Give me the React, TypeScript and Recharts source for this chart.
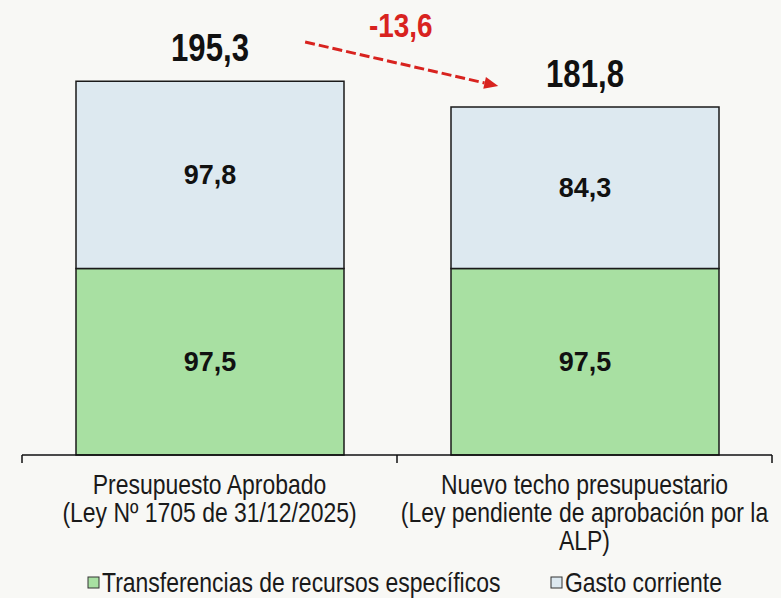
import React from 'react';
import {
  BarChart,
  Bar,
  XAxis,
  YAxis,
  LabelList,
  Legend,
  ReferenceLine,
} from 'recharts';

// datos del gráfico
const categories = [
  ['Presupuesto Aprobado', '(Ley Nº 1705 de 31/12/2025)'],
  ['Nuevo techo presupuestario', '(Ley pendiente de aprobación por la', 'ALP)'],
];
const transferencias = [97.5, 97.5];
const gastoCorriente = [97.8, 84.3];
const totals = [195.3, 181.8];
const variationLabel = '-13,6';
const seriesNames = ['Transferencias de recursos específicos', 'Gasto corriente'];

const GREEN = '#a8e0a2';
const BLUE = '#dde9f0';
const RED = '#d8231f';
const SANS = '"Liberation Sans", Arial, sans-serif';
const NARROW = 0.82; // imitación de Arial Narrow

const data = categories.map((c, i) => ({
  x: i + 0.5,
  name: c,
  transferencias: transferencias[i],
  gasto: gastoCorriente[i],
  total: totals[i],
}));

const fmt = (v: number) => v.toFixed(1).replace('.', ',');

// texto condensado: escala horizontal alrededor de cx
const NarrowText = ({ cx, y, size, bold, fill, anchor = 'middle', children }: any) => (
  <g transform={`translate(${cx} 0) scale(${NARROW} 1)`}>
    <text
      x={0}
      y={y}
      textAnchor={anchor}
      fontFamily={SANS}
      fontWeight={bold ? 'bold' : 'normal'}
      fontSize={size}
      fill={fill}
    >
      {children}
    </text>
  </g>
);

const AxisTick = (props: any) => {
  const { x, y, payload } = props;
  const v = payload.value;
  if (Number.isInteger(v)) {
    return <line x1={x} y1={y} x2={x} y2={y + 8} stroke="#111" strokeWidth={1.5} />;
  }
  const lines = categories[Math.floor(v)];
  return (
    <g>
      {lines.map((l, i) => (
        <NarrowText key={i} cx={x} y={y + 39 + i * 28} size={28} fill="#1a1a1a">
          {l}
        </NarrowText>
      ))}
    </g>
  );
};

const TotalLabel = (props: any) => {
  const { x, y, width, index } = props;
  return (
    <NarrowText cx={x + width / 2} y={y - 20} size={38} bold fill="#111">
      {fmt(totals[index])}
    </NarrowText>
  );
};

const ArrowShape = (props: any) => {
  const { x1, y1, x2, y2 } = props;
  if (x1 == null) return null;
  const ang = Math.atan2(y2 - y1, x2 - x1);
  const head = 14;
  const hw = 6;
  const bx = x2 - head * Math.cos(ang);
  const by = y2 - head * Math.sin(ang);
  const px = -Math.sin(ang) * hw;
  const py = Math.cos(ang) * hw;
  return (
    <g>
      <line x1={x1} y1={y1} x2={bx} y2={by} stroke={RED} strokeWidth={3} strokeDasharray="10 4" />
      <polygon points={`${x2},${y2} ${bx + px},${by + py} ${bx - px},${by - py}`} fill={RED} />
      <NarrowText cx={(x1 + x2) / 2 - 1} y={y1 - 5} size={34} bold fill={RED}>
        {variationLabel}
      </NarrowText>
    </g>
  );
};

const legendX = [88, 551];

const LegendContent = (props: any) => {
  const payload = [...(props.payload || [])].sort(
    (a: any, b: any) => seriesNames.indexOf(a.value) - seriesNames.indexOf(b.value)
  );
  return (
    <svg width={781} height={32} style={{ display: 'block' }}>
      {payload.map((p: any, i: number) => (
        <g key={i}>
          <rect x={legendX[i]} y={11} width={11} height={11} fill={p.color} stroke="#333" strokeWidth={1} />
          <NarrowText cx={legendX[i] + 14} y={26} size={28} fill="#1a1a1a" anchor="start">
            {p.value}
          </NarrowText>
        </g>
      ))}
    </svg>
  );
};

export default function App() {
  return (
    <div style={{ position: 'absolute', left: 0, top: 0, width: 781, height: 598, background: '#f8f8f5' }}>
      <BarChart width={781} height={598} data={data} margin={{ top: 34, right: 9, left: 22, bottom: 0 }}>
        <XAxis
          dataKey="x"
          type="number"
          domain={[0, 2]}
          ticks={[0, 0.5, 1, 1.5, 2]}
          interval={0}
          tickSize={0}
          tickMargin={0}
          tickLine={false}
          axisLine={{ stroke: '#111', strokeWidth: 1.5 }}
          tick={<AxisTick />}
          height={143}
        />
        <YAxis hide domain={[0, 220]} />
        <Legend
          verticalAlign="middle"
          align="center"
          content={<LegendContent />}
          wrapperStyle={{ top: 566, left: 0, width: 781 }}
        />
        <Bar
          dataKey="transferencias"
          name={seriesNames[0]}
          stackId="a"
          fill={GREEN}
          stroke="#1a1a1a"
          strokeWidth={1.5}
          barSize={268}
          isAnimationActive={false}
        >
          <LabelList
            dataKey="transferencias"
            position="center"
            formatter={(v: any) => fmt(Number(v))}
            style={{ fontFamily: SANS, fontWeight: 'bold', fontSize: 27, fill: '#111' }}
          />
        </Bar>
        <Bar
          dataKey="gasto"
          name={seriesNames[1]}
          stackId="a"
          fill={BLUE}
          stroke="#1a1a1a"
          strokeWidth={1.5}
          barSize={268}
          isAnimationActive={false}
        >
          <LabelList
            dataKey="gasto"
            position="center"
            formatter={(v: any) => fmt(Number(v))}
            style={{ fontFamily: SANS, fontWeight: 'bold', fontSize: 27, fill: '#111' }}
          />
          <LabelList dataKey="total" content={<TotalLabel />} />
        </Bar>
        <ReferenceLine
          segment={[
            { x: 0.755, y: totals[0] + 20.5 },
            { x: 1.27, y: totals[1] + 11 },
          ]}
          shape={<ArrowShape />}
          ifOverflow="visible"
        />
      </BarChart>
    </div>
  );
}
